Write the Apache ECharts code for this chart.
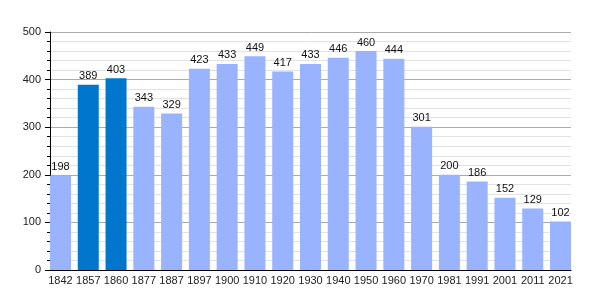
<!DOCTYPE html>
<html><head><meta charset="utf-8">
<script src="https://cdn.jsdelivr.net/npm/echarts@6/dist/echarts.min.js"></script>
<style>html,body{margin:0;padding:0;background:#fff}#c{width:600px;height:300px}</style>
</head><body><div id="c"></div>
<script>
var years = ['1842','1857','1860','1877','1887','1897','1900','1910','1920','1930','1940','1950','1960','1970','1981','1991','2001','2011','2021'];
var population = [198,389,403,343,329,423,433,449,417,433,446,460,444,301,200,186,152,129,102];
var highlighted = ['1857','1860'];
var yTicks = [0,100,200,300,400,500];

var font = 'Liberation Sans, Arial, sans-serif';
var chart = echarts.init(document.getElementById('c'), null, {renderer:'canvas'});
chart.setOption({
  animation:false,
  grid:[
    {left:50, top:32, width:521, height:238},
    {left:46.6, top:32, width:527.8, height:238}
  ],
  xAxis:[
    {gridIndex:0, type:'category', data:years, axisLine:{lineStyle:{color:'#000',width:1}}, axisTick:{show:false}, axisLabel:{show:false}, splitLine:{show:false}},
    {gridIndex:1, type:'category', data:years, axisLine:{show:false}, axisTick:{show:false},
     axisLabel:{color:'#222', fontSize:11, fontFamily:font, margin:5, interval:0}}
  ],
  yAxis:[
    {gridIndex:0, type:'value', min:yTicks[0], max:yTicks[yTicks.length-1], interval:100,
     axisLine:{show:true, lineStyle:{color:'#000'}},
     axisTick:{show:true, length:5, lineStyle:{color:'#000'}},
     minorTick:{show:true, splitNumber:5, length:3, lineStyle:{color:'#000'}},
     splitLine:{show:true, lineStyle:{color:'#aaa'}},
     minorSplitLine:{show:true, lineStyle:{color:'#e2e2e2'}},
     axisLabel:{color:'#222', fontSize:11, fontFamily:font, margin:9}},
    {gridIndex:1, type:'value', min:0, max:500, show:false, splitLine:{show:false}}
  ],
  series:[{
    type:'bar', xAxisIndex:1, yAxisIndex:1, barWidth:21,
    data: population.map(function(v,i){
      return {value:v, itemStyle:{color: highlighted.indexOf(years[i])>=0 ? '#0077cc' : '#99b3ff'}};
    }),
    label:{show:true, position:'top', distance:3, color:'#111', fontSize:11, fontFamily:font}
  }]
});
</script></body></html>
